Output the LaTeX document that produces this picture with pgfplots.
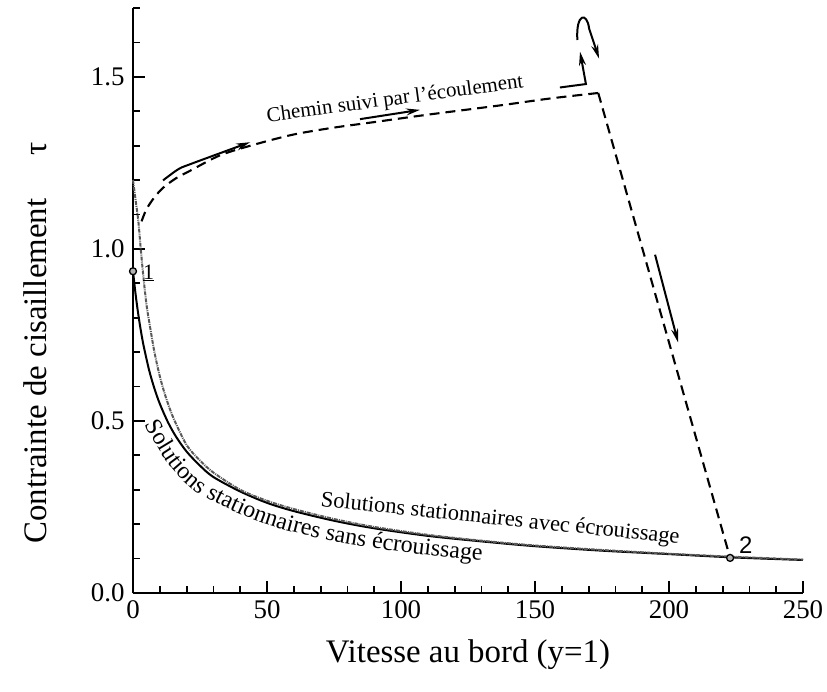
\documentclass[border=0pt]{standalone}
\usepackage{fontspec}
\setmainfont{Liberation Serif}
\setsansfont{Liberation Sans}
\usepackage{pgfplots}
\pgfplotsset{compat=1.18}
\usetikzlibrary{arrows.meta,decorations.text}

\begin{document}
\begin{tikzpicture}
\useasboundingbox (0bp,0bp) rectangle (827bp,692bp);
\begin{axis}[
  at={(133bp,99bp)}, anchor=south west,
  scale only axis, width=670bp, height=585bp,
  xmin=0, xmax=250, ymin=0, ymax=1.7,
  axis lines*=left,
  axis line style={line width=1.6bp},
  tick align=inside,
  major tick length=12bp, minor tick length=6.5bp,
  tick style={line width=1.8bp, black},
  xtick={0,50,...,250},
  minor xtick={10,20,30,40,60,70,80,90,110,120,130,140,160,170,180,190,210,220,230,240},
  ytick={0,0.5,1,1.5},
  minor ytick={0.1,0.2,0.3,0.4,0.6,0.7,0.8,0.9,1.1,1.2,1.3,1.4,1.6,1.7},
  y tick label style={xshift=-5bp, /pgf/number format/fixed, /pgf/number format/fixed zerofill, /pgf/number format/precision=1},
  x tick label style={yshift=-4bp},
  /pgf/number format/assume math mode=true,
  tick label style={font=\fontsize{27}{30}\selectfont},
  label style={font=\fontsize{33}{38}\selectfont},
  xlabel={Vitesse au bord (y=1)},
  ylabel={Contrainte de cisaillement\hspace{1.3em}τ},
  xlabel style={at={(axis description cs:0.5,-0.106)}, anchor=center},
  ylabel style={at={(axis description cs:-0.146,0.427)}, anchor=center},
  clip=false,
]
% solutions stationnaires sans ecrouissage
\addplot[black, line width=2bp, smooth] coordinates {
(0,0.935) (1,0.866) (2,0.808) (3,0.759) (4,0.717) (6,0.648) (8,0.594) (10,0.550)
(13,0.497) (16,0.455) (20,0.411) (25,0.370) (30,0.337) (40,0.295) (50,0.262)
(60,0.238) (75,0.210) (90,0.188) (110,0.166) (130,0.150) (150,0.136) (175,0.123)
(200,0.113) (225,0.103) (250,0.096)};
% solutions stationnaires avec ecrouissage
\addplot[black!65, line width=2bp, smooth, dash pattern=on 4bp off 1bp on 1bp off 1bp] coordinates {
(0,1.20) (1,1.14) (2,1.08) (3,0.99) (4,0.91) (5,0.84) (6,0.79) (8,0.70) (10,0.63)
(12,0.575) (15,0.51) (20,0.43) (25,0.385) (30,0.35) (40,0.30) (50,0.268) (60,0.244)
(75,0.215) (90,0.192) (110,0.169) (130,0.152) (150,0.138) (175,0.125) (200,0.114)
(225,0.105) (250,0.097)};
% chemin suivi
\addplot[black, line width=2.1bp, dash pattern=on 10bp off 6bp, smooth] coordinates {
(3.2,1.08) (5,1.115) (8,1.15) (11.3,1.178) (16,1.205) (21.3,1.227) (32.5,1.272)
(44.8,1.302) (59.7,1.332) (74.6,1.352) (89.6,1.368) (110,1.39) (137,1.417)
(155.6,1.437) (173.6,1.453)};
\addplot[black, line width=2.1bp, dash pattern=on 10bp off 6bp] coordinates {
(173.6,1.453) (222.8,0.102)};
% points 1 et 2
\addplot[only marks, mark=*, mark size=3.5bp, mark options={fill=black!30, draw=black, line width=1.3bp}] coordinates {(0,0.935) (222.8,0.102)};
\node[font=\fontsize{22}{24}\selectfont] at (axis cs:5.8,0.93) {\underline{1}};
\node[font=\sffamily\fontsize{24}{26}\selectfont] at (axis cs:228.6,0.14) {2};
% arrows
\draw[line width=2bp, -{Stealth[length=14bp,width=7bp]}] plot[smooth] coordinates {(11.2,1.199) (16.8,1.231) (21.3,1.246) (43.7,1.31)};
\draw[line width=2bp, -{Stealth[length=14bp,width=7bp]}] (axis cs:84.7,1.377) -- (axis cs:107.1,1.404);
\draw[line width=2bp, -{Stealth[length=14bp,width=7bp]}] (axis cs:159.3,1.469) -- (axis cs:169,1.479) -- (axis cs:166.8,1.573);
\draw[line width=2bp, -{Stealth[length=14bp,width=7bp]}] (axis cs:165.8,1.607) .. controls (axis cs:165.2,1.685) and (axis cs:169.4,1.69) .. (axis cs:170.2,1.64) -- (axis cs:173.9,1.553);
\draw[line width=2bp, -{Stealth[length=14bp,width=7bp]}] (axis cs:194.8,0.983) -- (axis cs:203.4,0.728);
% texts
\node[rotate=7.7, font=\fontsize{21}{23}\selectfont] at (axis cs:97.8,1.433) {Chemin suivi par l'écoulement};
\node[rotate=-6, font=\fontsize{22.5}{24}\selectfont] at (axis cs:137,0.213) {Solutions stationnaires avec écrouissage};
\path[decorate, decoration={text along path, text align=left, text={|\fontsize{24}{26}\selectfont|Solutions stationnaires sans écrouissage}}]
  plot[smooth] coordinates {(4.6,0.49) (6.5,0.46) (14.3,0.365) (25.5,0.285) (48.0,0.204) (73.7,0.152) (109.2,0.110) (149.4,0.082) (190,0.066)};
\end{axis}
\end{tikzpicture}
\end{document}
